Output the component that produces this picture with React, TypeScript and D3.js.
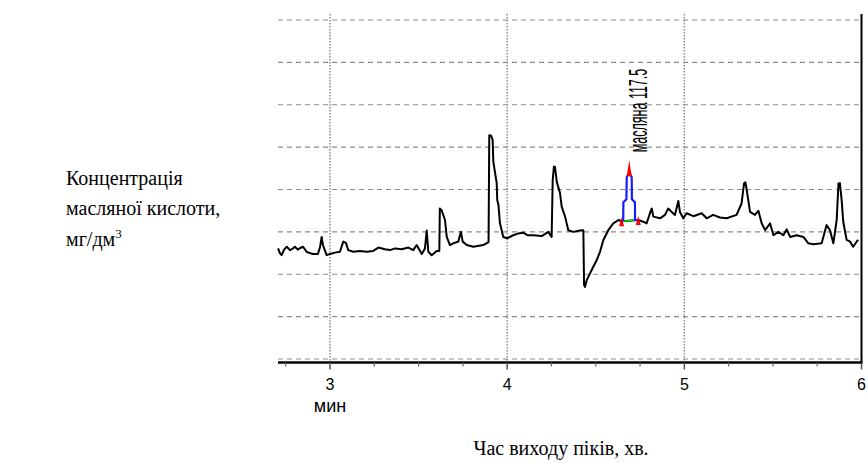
import React from "react";
import * as d3 from "d3";

// ---- data (time in min, signal in grid units) ----
const traceTime: (number)[] = [
  2.707, 2.717, 2.727, 2.741, 2.756, 2.774, 2.788, 2.802, 2.818, 2.831, 2.848, 2.868, 2.885, 2.904, 2.932,
  2.944, 2.953, 2.960, 2.981, 3.000, 3.028, 3.056, 3.075, 3.090, 3.103, 3.132, 3.169, 3.207, 3.244,
  3.273, 3.310, 3.339, 3.367, 3.405, 3.442, 3.470, 3.489, 3.518, 3.536, 3.546, 3.555, 3.574, 3.602,
  3.617, 3.620, 3.630, 3.649, 3.659, 3.677, 3.696, 3.724, 3.739, 3.749, 3.772, 3.809, 3.865, 3.895,
  3.899, 3.909, 3.918, 3.922, 3.941, 3.944, 3.951, 3.959, 3.978, 4.000, 4.034, 4.061, 4.091, 4.117,
  4.147, 4.195, 4.232, 4.251, 4.257, 4.264, 4.270, 4.280, 4.298, 4.308, 4.327, 4.345, 4.373, 4.411,
  4.430, 4.434, 4.439, 4.449, 4.477, 4.505, 4.524, 4.543, 4.571, 4.599, 4.628, 4.646,
  4.740, 4.768, 4.787, 4.806, 4.816, 4.825, 4.863, 4.891, 4.909, 4.929, 4.947, 4.966, 4.975, 4.994,
  5.013, 5.051, 5.098, 5.126, 5.163, 5.201, 5.239, 5.295, 5.323, 5.337, 5.345, 5.352, 5.371, 5.399,
  5.418, 5.437, 5.456, 5.484, 5.503, 5.531, 5.559, 5.578, 5.597, 5.634, 5.672, 5.700, 5.728, 5.775,
  5.803, 5.822, 5.841, 5.860, 5.870, 5.878, 5.888, 5.897, 5.916, 5.935, 5.953, 5.976, 5.982,
];
const traceSignal: (number | null)[] = [
  2.61, 2.50, 2.45, 2.58, 2.65, 2.57, 2.60, 2.65, 2.58, 2.62, 2.65, 2.53, 2.50, 2.48, 2.48,
  2.65, 2.88, 2.69, 2.45, 2.48, 2.51, 2.53, 2.77, 2.74, 2.57, 2.53, 2.55, 2.53, 2.55,
  2.63, 2.59, 2.57, 2.61, 2.59, 2.63, 2.57, 2.69, 2.48, 2.61, 3.03, 2.53, 2.45, 2.55,
  2.55, 3.55, 3.51, 3.28, 2.88, 2.69, 2.73, 2.77, 3.00, 2.77, 2.69, 2.65, 2.69, 2.76,
  5.28, 5.27, 5.17, 4.65, 4.15, 3.75, 3.63, 3.21, 2.88, 2.85, 2.92, 2.96, 2.98, 2.92,
  2.92, 2.90, 3.00, 2.88, 4.22, 4.54, 4.53, 4.18, 3.92, 3.59, 3.36, 3.04, 3.00, 3.03,
  3.04, 1.75, 1.70, 1.86, 2.10, 2.33, 2.53, 2.81, 3.04, 3.20, 3.28, 3.25,
  3.28, 3.24, 3.20, 3.44, 3.55, 3.36, 3.32, 3.40, 3.55, 3.47, 3.40, 3.73, 3.47, 3.32,
  3.44, 3.37, 3.44, 3.32, 3.40, 3.34, 3.32, 3.40, 3.67, 4.14, 4.17, 3.99, 3.47, 3.40,
  3.50, 3.20, 3.04, 3.20, 2.92, 3.00, 2.92, 3.06, 2.88, 2.92, 2.88, 2.73, 2.71, 2.73,
  3.16, 3.04, 2.73, 3.28, 4.14, 4.15, 3.75, 3.24, 2.81, 2.77, 2.65, 2.79, 2.81,
];
// integrated peak (butyric acid)
const peakTime = [4.646, 4.655, 4.656, 4.673, 4.675, 4.689, 4.703, 4.704, 4.721, 4.722, 4.740];
const peakSignal = [3.25, 3.28, 3.70, 3.77, 4.29, 4.41, 4.29, 3.77, 3.70, 3.28, 3.28];
const peakStart = { t: 4.646, v: 3.25 };
const peakEnd = { t: 4.740, v: 3.28 };
const peakApex = { t: 4.689, v: 4.69 };
const peakLabel = "масляна 117.5";

const xTicksMajor = [3, 4, 5, 6];
const xTicksMinor = [2.75, 3.25, 3.5, 3.75, 4.25, 4.5, 4.75, 5.25, 5.5, 5.75];
const yGrid = [0, 1, 2, 3, 4, 5, 6, 7, 8];
const xUnit = "мин";
const xTitle = "Час виходу піків, хв.";
const yTitleLines = ["Концентрація", "масляної кислоти,", "мг/дм"];

export default function App() {
  const W = 867, H = 463;
  const left = 278, right = 861.5, top = 14, axisY = 362.5;
  const x = d3.scaleLinear().domain([2.7065, 6]).range([left, right]);
  const y = d3.scaleLinear().domain([0, 8]).range([359, 20]);

  const pts = traceTime.map((t, i) => [t, traceSignal[i]] as [number, number | null]);
  const line = d3
    .line<[number, number | null]>()
    .defined((d) => d[1] != null)
    .x((d) => x(d[0]))
    .y((d) => y(d[1] as number));
  const peakLine = d3
    .line<[number, number]>()
    .x((d) => x(d[0]))
    .y((d) => y(d[1]));
  const peakPts = peakTime.map((t, i) => [t, peakSignal[i]] as [number, number]);

  const tri = (cx: number, tipY: number, baseY: number, w: number) =>
    `M${cx},${tipY} L${cx + w / 2},${baseY} L${cx - w / 2},${baseY} Z`;

  const sx = x(peakStart.t), sy = y(peakStart.v);
  const ex = x(peakEnd.t), ey = y(peakEnd.v);
  const ax = x(peakApex.t), ay = y(peakApex.v);

  return (
    <svg width={W} height={H} style={{ position: "absolute", left: 0, top: 0, background: "#fff" }}>
      {/* horizontal dashed grid */}
      {yGrid.map((g) => (
        <line key={"h" + g} x1={left} x2={right} y1={y(g)} y2={y(g)} stroke="#8c8c8c" strokeWidth={1.2} strokeDasharray="5,4" />
      ))}
      {/* vertical dotted grid */}
      {xTicksMajor.slice(0, 3).map((t) => (
        <line key={"v" + t} x1={x(t)} x2={x(t)} y1={top} y2={axisY} stroke="#8c8c8c" strokeWidth={1.5} strokeDasharray="1.5,1.5" />
      ))}
      {/* right border */}
      <line x1={right} x2={right} y1={top} y2={axisY + 1} stroke="#000" strokeWidth={2} />
      {/* bottom axis */}
      <line x1={left} x2={right + 1} y1={axisY} y2={axisY} stroke="#000" strokeWidth={2.5} />
      {xTicksMajor.map((t) => (
        <line key={"tM" + t} x1={x(t)} x2={x(t)} y1={axisY} y2={axisY + 7} stroke="#555" strokeWidth={1.5} />
      ))}
      {xTicksMinor.map((t) => (
        <line key={"tm" + t} x1={x(t)} x2={x(t)} y1={axisY} y2={axisY + 4} stroke="#666" strokeWidth={1.2} />
      ))}
      {xTicksMajor.map((t) => (
        <text key={"lb" + t} x={x(t)} y={390} textAnchor="middle" fontFamily="Liberation Sans, Arial, sans-serif" fontSize={16}>
          {t}
        </text>
      ))}
      <text x={x(3)} y={412} textAnchor="middle" fontFamily="Liberation Sans, Arial, sans-serif" fontSize={18}>
        {xUnit}
      </text>

      {/* trace */}
      <path d={line(pts) || ""} fill="none" stroke="#000" strokeWidth={2} strokeLinejoin="round" />
      {/* integrated peak */}
      <line x1={sx} y1={sy} x2={ex} y2={ey} stroke="#00dd00" strokeWidth={1.5} />
      <path d={peakLine(peakPts) || ""} fill="none" stroke="#1a1aff" strokeWidth={2.2} />
      <path d={tri(ax, ay, ay + 16, 5)} fill="#ff0000" />
      <path d={tri(sx, sy - 4, sy + 5, 5)} fill="#ff0000" />
      <path d={tri(ex, ey - 4, ey + 5, 5)} fill="#ff0000" />
      <text
        transform={`translate(${ax + 18},${ay - 8}) rotate(-90) scale(0.5,1)`}
        fontFamily="Liberation Sans, Arial, sans-serif"
        fontSize={25}
      >
        {peakLabel}
      </text>

      {/* axis titles */}
      <text x={561} y={455} textAnchor="middle" fontFamily="Liberation Serif, Times New Roman, serif" fontSize={20}>
        {xTitle}
      </text>
      <g fontFamily="Liberation Serif, Times New Roman, serif" fontSize={20}>
        <text x={66} y={184.5}>{yTitleLines[0]}</text>
        <text x={66} y={215}>{yTitleLines[1]}</text>
        <text x={66} y={245.5}>
          {yTitleLines[2]}
          <tspan fontSize={13} dy={-8}>3</tspan>
        </text>
      </g>
    </svg>
  );
}
